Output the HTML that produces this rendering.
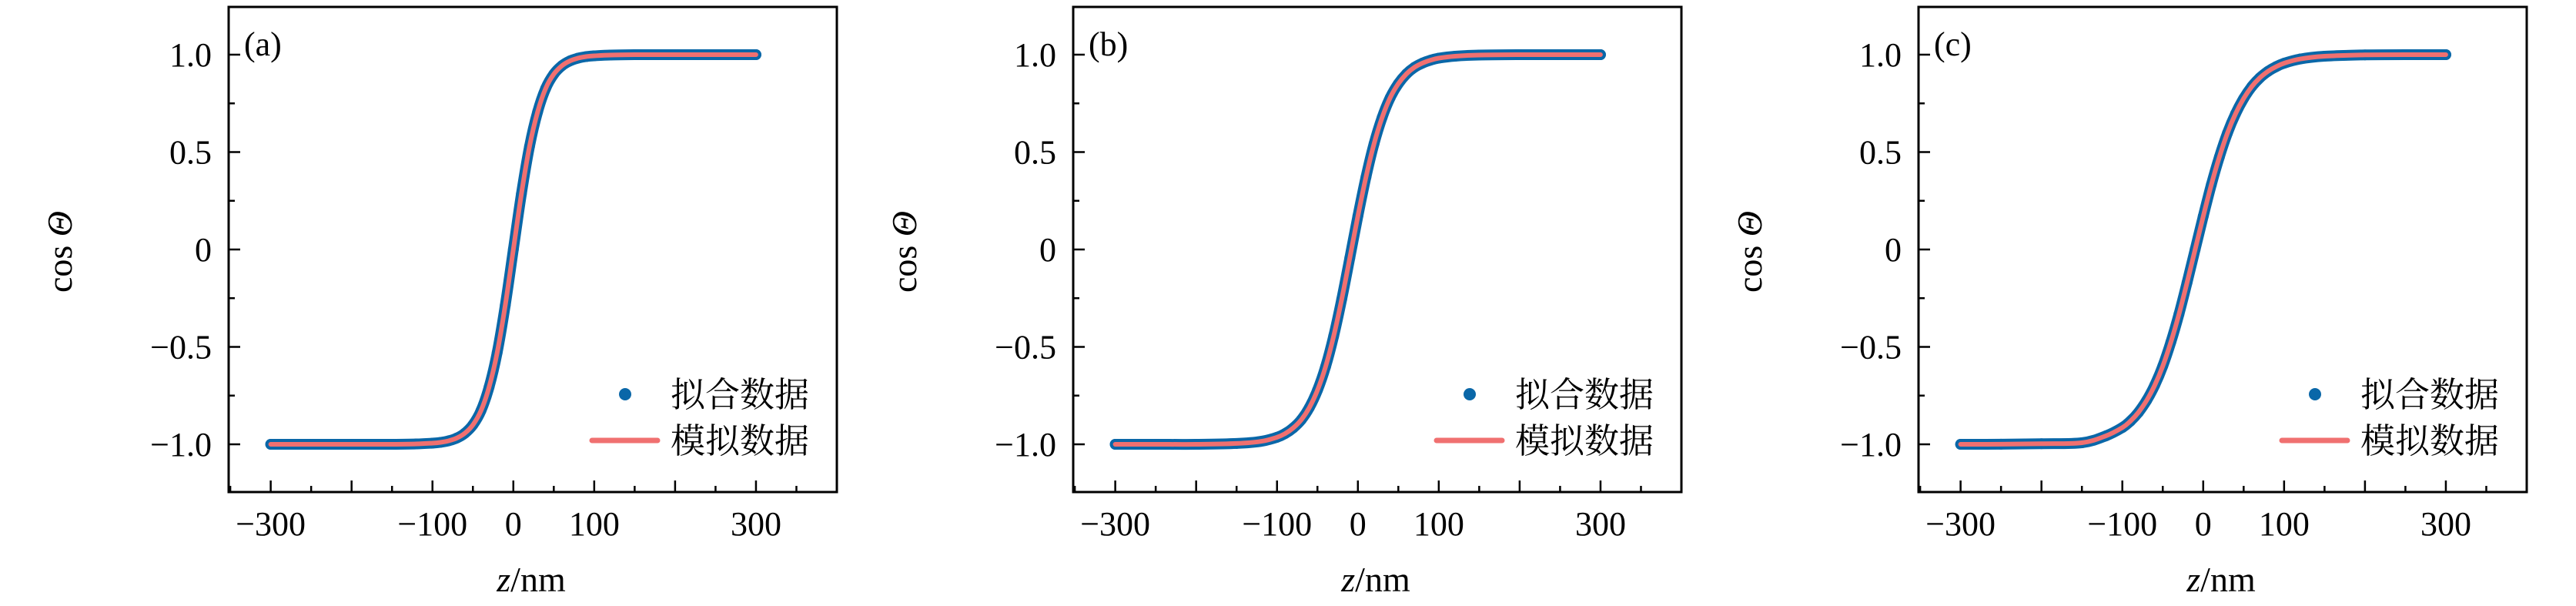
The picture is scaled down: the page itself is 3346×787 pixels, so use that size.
<!DOCTYPE html>
<html><head><meta charset="utf-8"><style>
html,body{margin:0;padding:0;background:#fff;}
svg{display:block;font-family:"Liberation Serif","Noto Serif CJK SC",serif;}
</style></head><body>
<svg id="fig" width="3346" height="787" viewBox="0 0 3346 787"></svg>
<script>
const zValues = [-300,-250,-200,-150,-120,-100,-90,-80,-70,-60,-50,-40,-30,-20,-10,0,10,20,30,40,50,60,70,80,90,100,120,150,200,250,300];
const fitA = [-1,-1,-1,-1,-0.998,-0.994,-0.990,-0.982,-0.968,-0.943,-0.900,-0.827,-0.706,-0.529,-0.286,0,0.286,0.529,0.706,0.827,0.900,0.943,0.968,0.982,0.990,0.994,0.998,1,1,1,1];
const simA = [-1,-1,-1,-1,-0.998,-0.994,-0.990,-0.982,-0.968,-0.943,-0.900,-0.827,-0.706,-0.529,-0.286,0,0.286,0.529,0.706,0.827,0.900,0.943,0.968,0.982,0.990,0.994,0.998,1,1,1,1];
const fitB = [-1,-1,-0.9999,-0.9958,-0.985,-0.964,-0.945,-0.916,-0.874,-0.811,-0.722,-0.602,-0.445,-0.255,-0.043,0.172,0.372,0.543,0.678,0.780,0.851,0.901,0.935,0.957,0.972,0.982,0.992,0.998,0.9999,1,1];
const simB = [-1,-1,-0.9999,-0.9958,-0.985,-0.964,-0.945,-0.916,-0.874,-0.811,-0.722,-0.602,-0.445,-0.255,-0.043,0.172,0.372,0.543,0.678,0.780,0.851,0.901,0.935,0.957,0.972,0.982,0.992,0.998,0.9999,1,1];
const fitC = [-1,-0.9996,-0.997,-0.992,-0.956,-0.914,-0.881,-0.836,-0.775,-0.697,-0.598,-0.475,-0.332,-0.170,0,0.170,0.332,0.475,0.598,0.697,0.775,0.836,0.881,0.914,0.938,0.956,0.978,0.992,0.9986,1,1];
const simC = [-1,-0.9996,-0.997,-0.992,-0.956,-0.914,-0.881,-0.836,-0.775,-0.697,-0.598,-0.475,-0.332,-0.170,0,0.170,0.332,0.475,0.598,0.697,0.775,0.836,0.881,0.914,0.938,0.956,0.978,0.992,0.9986,1,1];
const panelLabels = ["(a)","(b)","(c)"];
const xTickLabels = ["\u2212300","\u2212100","0","100","300"];
const xTickLabelValues = [-300,-100,0,100,300];
const yTickLabels = ["\u22121.0","\u22120.5","0","0.5","1.0"];
const yTickLabelValues = [-1,-0.5,0,0.5,1];

const NS="http://www.w3.org/2000/svg";
const svg=document.getElementById('fig');
const W=790,H=630,TOP=9;
const X0=-352,X1=400,Y0=-1.245,Y1=1.245;
const lefts=[297,1394,2492];
function mk(tag,attrs,parent){const e=document.createElementNS(NS,tag);for(const k in attrs)e.setAttribute(k,attrs[k]);parent.appendChild(e);return e;}
function pathFrom(pts){
  let d="M"+pts[0][0].toFixed(1)+","+pts[0][1].toFixed(1);
  for(let i=0;i<pts.length-1;i++){
    const p0=pts[Math.max(0,i-1)],p1=pts[i],p2=pts[i+1],p3=pts[Math.min(pts.length-1,i+2)];
    const c1=[p1[0]+(p2[0]-p0[0])/6,p1[1]+(p2[1]-p0[1])/6];
    const c2=[p2[0]-(p3[0]-p1[0])/6,p2[1]-(p3[1]-p1[1])/6];
    d+=" C"+c1[0].toFixed(1)+","+c1[1].toFixed(1)+" "+c2[0].toFixed(1)+","+c2[1].toFixed(1)+" "+p2[0].toFixed(1)+","+p2[1].toFixed(1);
  }
  return d;
}
const fits=[fitA,fitB,fitC], sims=[simA,simB,simC];
for(let p=0;p<3;p++){
  const L=lefts[p];
  const g=mk('g',{},svg);
  
  
  const xs=v=>L+(v-X0)/(X1-X0)*W;
  const ys=v=>TOP+(Y1-v)/(Y1-Y0)*H;
  for(let v=-350;v<=400;v+=50){
    const major=(v%100===0);
    const t=mk('line',{x1:xs(v),x2:xs(v),y1:TOP+H,y2:TOP+H-(major?15:8),stroke:'#000','stroke-width':2.5},g);
    
    
  }
  for(let k=-4;k<=4;k++){
    const v=k*0.25, major=(k%2===0);
    const t=mk('line',{x1:L,x2:L+(major?15:8),y1:ys(v),y2:ys(v),stroke:'#000','stroke-width':2.5},g);
    
    
  }
  xTickLabels.forEach((s,i)=>{
    const t=mk('text',{x:xs(xTickLabelValues[i]),y:695,'font-size':44,'text-anchor':'middle'},g);
    t.textContent=s;
    
    
  });
  yTickLabels.forEach((s,i)=>{
    const t=mk('text',{x:L-22,y:ys(yTickLabelValues[i])+15,'font-size':44,'text-anchor':'end'},g);
    t.textContent=s;
    
    
  });
  const ptsF=zValues.map((z,i)=>[xs(z),ys(fits[p][i])]);
  const ptsS=zValues.map((z,i)=>[xs(z),ys(sims[p][i])]);
  const band=mk('path',{d:pathFrom(ptsF),fill:'none',stroke:'#0a67a8','stroke-width':14,'stroke-linecap':'round','stroke-linejoin':'round'},g);
  
  
  ptsF.forEach(pt=>{
    const c=mk('circle',{cx:pt[0],cy:pt[1],r:7,fill:'#0a67a8'},g);
    
    
  });
  const line=mk('path',{d:pathFrom(ptsS),fill:'none',stroke:'#f07070','stroke-width':6,'stroke-linecap':'round','stroke-linejoin':'round'},g);
  
  
  const fr=mk('rect',{x:L,y:TOP,width:W,height:H,fill:'none',stroke:'#000','stroke-width':3},g);
  
  
  const pl=mk('text',{x:L+20,y:72,'font-size':44},g);
  pl.textContent=panelLabels[p];
  
  
  const xt=mk('text',{x:L+393,y:768,'font-size':46,'text-anchor':'middle'},g);
  xt.innerHTML='<tspan font-style="italic">z</tspan>/nm';
  
  
  const yt=mk('text',{x:0,y:0,'font-size':46,'text-anchor':'middle',transform:'translate('+(L-204)+',327) rotate(-90)'},g);
  yt.innerHTML='cos <tspan font-style="italic">\u0398</tspan>';
  
  
  const lg=mk('g',{},g);
  
  
  const ld=mk('circle',{cx:L+515,cy:512,r:8,fill:'#0a67a8'},lg);
  
  
  const lt1=mk('text',{x:L+574,y:528,'font-size':45,'font-family':'"Noto Serif CJK SC","Noto Sans CJK SC",serif'},lg);
  lt1.textContent='拟合数据';
  
  
  const ll=mk('line',{x1:L+472,x2:L+557,y1:572,y2:572,stroke:'#f07070','stroke-width':7,'stroke-linecap':'round'},lg);
  
  
  const lt2=mk('text',{x:L+574,y:588,'font-size':45,'font-family':'"Noto Serif CJK SC","Noto Sans CJK SC",serif'},lg);
  lt2.textContent='模拟数据';
  
  
}
</script>
</body></html>
